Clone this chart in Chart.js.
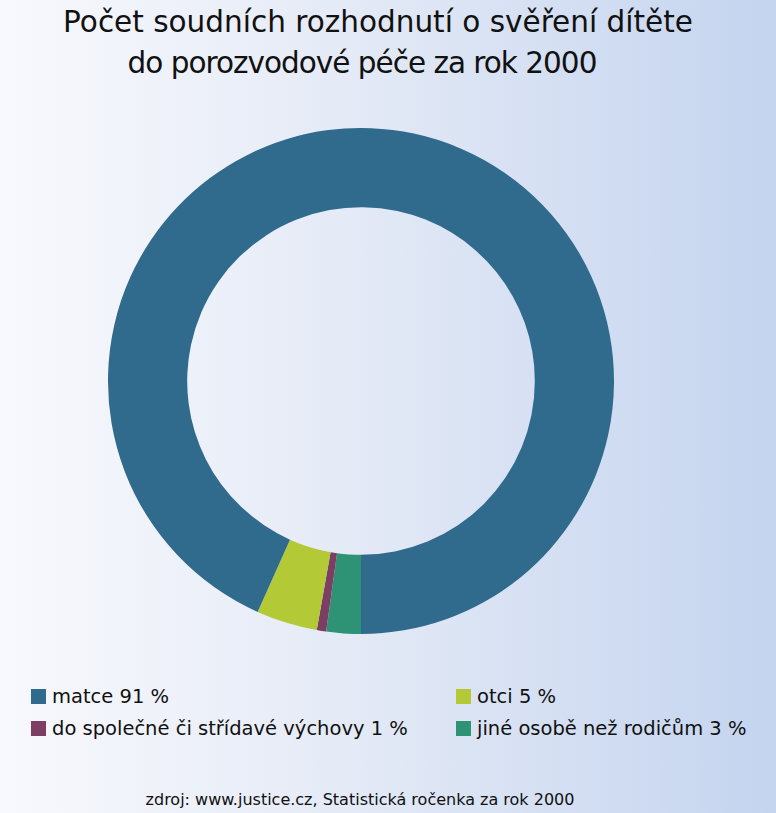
<!DOCTYPE html>
<html>
<head>
<meta charset="utf-8">
<script src="https://cdn.jsdelivr.net/npm/chart.js@4/dist/chart.umd.min.js"></script>
<style>
  body { margin: 0; }
  #page {
    position: relative; width: 776px; height: 813px; overflow: hidden;
    background: linear-gradient(to right, #f8f9fd 0%, #e4eaf6 45%, #c4d4ef 100%);
    font-family: "DejaVu Sans", sans-serif;
    color: #111;
  }
  .title { position: absolute; font-size: 29.5px; white-space: nowrap; transform: translateX(-50%); }
  #chartBox { position: absolute; left: 108px; top: 128px; width: 506px; height: 506px; }
  .leg { position: absolute; font-size: 19.5px; white-space: nowrap; }
  .leg i { display: inline-block; width: 15px; height: 15px; margin-right: 6px; vertical-align: -1px; }
  #source { position: absolute; left: 360px; top: 790px; font-size: 16px; transform: translateX(-50%); white-space: nowrap; }
</style>
</head>
<body>
<div id="page">
  <div class="title" style="left:378px; top:5px;">Počet soudních rozhodnutí o svěření dítěte</div>
  <div class="title" style="left:362px; top:46px; letter-spacing:-1px;">do porozvodové péče za rok 2000</div>
  <div id="chartBox"><canvas id="donut"></canvas></div>
  <div id="legend"></div>
  <div id="source">zdroj: www.justice.cz, Statistická ročenka za rok 2000</div>
</div>
<script>
// categories in legend order
const categories = ["matce", "otci", "do společné či střídavé výchovy", "jiné osobě než rodičům"];
// percentages printed in the legend
const legendPercent = [91, 5, 1, 3];
// share of the ring
const shares = [93.3, 3.9, 0.6, 2.2];
const colors = ["#306a8c", "#b3c935", "#7c3e62", "#2e9374"];

// ring runs counter-clockwise from the bottom, so draw in reverse order
const order = [3, 2, 1, 0];

new Chart(document.getElementById("donut"), {
  type: "doughnut",
  data: {
    labels: order.map(i => categories[i]),
    datasets: [{
      data: order.map(i => shares[i]),
      backgroundColor: order.map(i => colors[i]),
      borderWidth: 0
    }]
  },
  options: {
    responsive: true,
    maintainAspectRatio: false,
    animation: false,
    rotation: 180,
    cutout: "68.7%",
    layout: { padding: 0 },
    plugins: { legend: { display: false }, tooltip: { enabled: false } }
  }
});

// legend: two columns
const legendPos = [[31, 685], [456, 685], [31, 717], [456, 717]];
const legendDiv = document.getElementById("legend");
categories.forEach((c, i) => {
  const d = document.createElement("div");
  d.className = "leg";
  d.style.left = legendPos[i][0] + "px";
  d.style.top = legendPos[i][1] + "px";
  d.innerHTML = `<i style="background:${colors[i]}"></i>${c} ${legendPercent[i]} %`;
  legendDiv.appendChild(d);
});
</script>
</body>
</html>
